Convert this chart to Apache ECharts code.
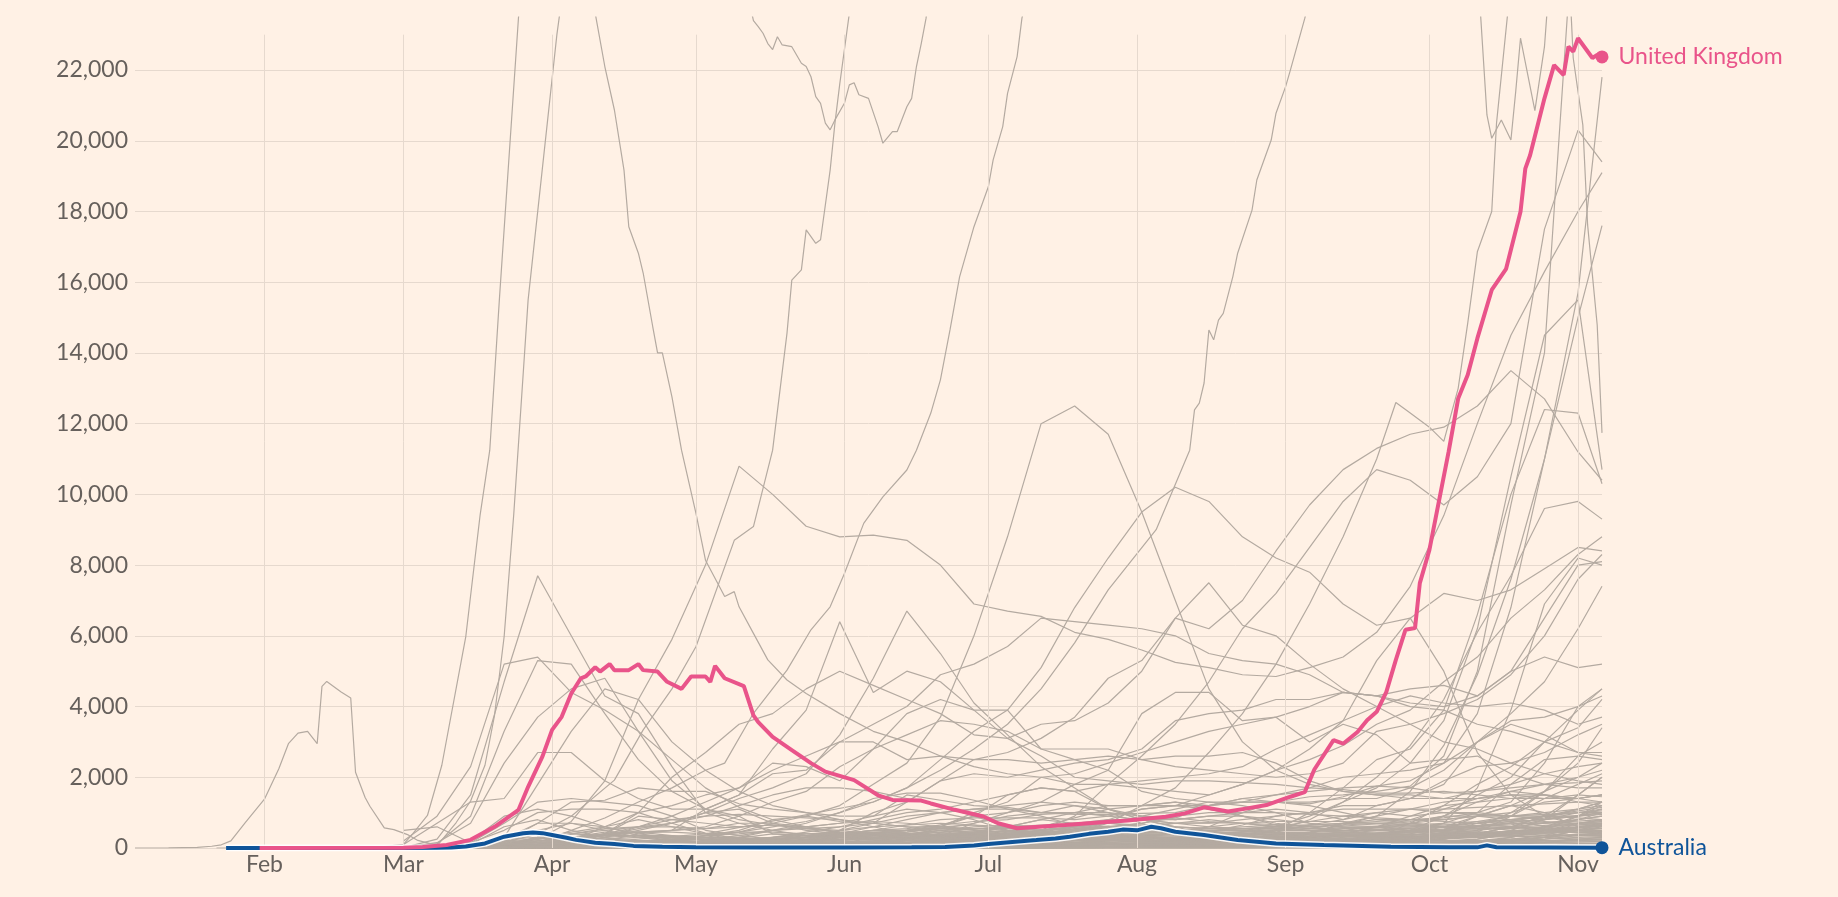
<!DOCTYPE html>
<html>
<head>
<meta charset="utf-8">
<style>
html,body{margin:0;padding:0;background:#fff1e5;}
#c{width:1838px;height:897px;}
</style>
<script src="https://cdn.jsdelivr.net/npm/echarts@6/dist/echarts.min.js"></script>
</head>
<body>
<div id="c"></div>
<script>
// ---------- axis / tick data ----------
const monthNames = ['Jan','Feb','Mar','Apr','May','Jun','Jul','Aug','Sep','Oct','Nov','Dec'];
const monthStarts = ['2020-02-01','2020-03-01','2020-04-01','2020-05-01','2020-06-01','2020-07-01','2020-08-01','2020-09-01','2020-10-01','2020-11-01'];
const yMax = 23500, yGridTop = 23000, yStep = 2000;

// weekly sample dates used by most grey lines
const weeks = ['2020-03-01','2020-03-08','2020-03-15','2020-03-22','2020-03-29',
 '2020-04-05','2020-04-12','2020-04-19','2020-04-26',
 '2020-05-03','2020-05-10','2020-05-17','2020-05-24','2020-05-31',
 '2020-06-07','2020-06-14','2020-06-21','2020-06-28',
 '2020-07-05','2020-07-12','2020-07-19','2020-07-26',
 '2020-08-02','2020-08-09','2020-08-16','2020-08-23','2020-08-30',
 '2020-09-06','2020-09-13','2020-09-20','2020-09-27',
 '2020-10-04','2020-10-11','2020-10-18','2020-10-25',
 '2020-11-01','2020-11-06'];

// ---------- highlighted series ----------
const ukDates = ['2020-01-31','2020-03-01','2020-03-05','2020-03-10','2020-03-15','2020-03-20','2020-03-25','2020-03-27','2020-03-30',
 '2020-04-01','2020-04-03','2020-04-05','2020-04-07','2020-04-08','2020-04-10','2020-04-11','2020-04-13','2020-04-14','2020-04-17','2020-04-19','2020-04-20','2020-04-23','2020-04-25','2020-04-28','2020-04-30',
 '2020-05-03','2020-05-04','2020-05-05','2020-05-07','2020-05-11','2020-05-13','2020-05-14','2020-05-17','2020-05-21','2020-05-25','2020-05-28',
 '2020-06-03','2020-06-08','2020-06-11','2020-06-17','2020-06-19','2020-06-24','2020-06-30',
 '2020-07-03','2020-07-07','2020-07-10','2020-07-17','2020-07-24','2020-07-30',
 '2020-08-07','2020-08-11','2020-08-15','2020-08-20','2020-08-24','2020-08-28',
 '2020-09-02','2020-09-05','2020-09-07','2020-09-11','2020-09-13','2020-09-16','2020-09-18','2020-09-20','2020-09-22','2020-09-24','2020-09-26','2020-09-28','2020-09-29',
 '2020-10-01','2020-10-05','2020-10-07','2020-10-09','2020-10-11','2020-10-14','2020-10-17','2020-10-20','2020-10-21','2020-10-22','2020-10-25','2020-10-27','2020-10-29','2020-10-30','2020-10-31',
 '2020-11-01','2020-11-04','2020-11-05','2020-11-06'];
const ukVals = [0,10,30,85,230,600,1080,1730,2590,
 3340,3710,4370,4800,4850,5110,4990,5200,5030,5030,5200,5030,4990,4700,4500,4850,
 4850,4700,5150,4800,4580,3750,3560,3140,2770,2400,2160,
 1920,1490,1360,1340,1260,1080,890,
 700,560,590,650,720,780,
 885,980,1150,1030,1120,1215,
 1450,1580,2220,3050,2950,3280,3610,3850,4410,5320,6170,6220,7490,
 8430,11200,12710,13380,14410,15780,16380,17990,19210,19590,21200,22140,21860,22660,22520,
 22900,22340,22430,22370];

const ausDates = ['2020-01-24','2020-03-01','2020-03-08','2020-03-11','2020-03-14','2020-03-18','2020-03-22','2020-03-26','2020-03-28','2020-03-30',
 '2020-04-01','2020-04-04','2020-04-06','2020-04-10','2020-04-14','2020-04-18','2020-04-24','2020-05-01','2020-05-15',
 '2020-06-01','2020-06-15','2020-06-22','2020-06-28','2020-07-01','2020-07-06','2020-07-11','2020-07-15','2020-07-18','2020-07-22','2020-07-26','2020-07-29',
 '2020-08-01','2020-08-04','2020-08-06','2020-08-09','2020-08-15','2020-08-22','2020-08-30',
 '2020-09-09','2020-09-23','2020-10-05','2020-10-11','2020-10-13','2020-10-15','2020-11-06'];
const ausVals = [0,2,8,15,40,130,320,415,440,420,
 370,290,230,150,110,60,35,20,15,
 15,20,25,70,110,170,225,270,320,400,460,520,
 500,600,560,460,370,225,130,
 85,35,20,18,75,20,10];

// ---------- grey lines with their own dates ----------
const chinaDates = ['2020-01-05','2020-01-12','2020-01-18','2020-01-21','2020-01-23','2020-01-25','2020-01-28','2020-02-01','2020-02-04','2020-02-06','2020-02-08','2020-02-10','2020-02-12','2020-02-13','2020-02-14','2020-02-17','2020-02-19','2020-02-20','2020-02-22','2020-02-23','2020-02-26','2020-02-28','2020-03-02','2020-03-04','2020-03-07','2020-03-15','2020-04-01','2020-04-15','2020-05-01','2020-06-15','2020-08-01','2020-11-06'];
const chinaVals = [0,5,20,50,90,200,720,1380,2240,2950,3250,3300,2950,4570,4710,4410,4240,2140,1430,1180,570,520,370,215,110,30,50,60,10,20,50,20];

const usDates = ['2020-01-22','2020-03-01','2020-03-08','2020-03-12','2020-03-15','2020-03-18','2020-03-20','2020-03-22','2020-03-24','2020-03-26','2020-03-27','2020-04-02','2020-04-08','2020-04-15','2020-04-22','2020-04-29','2020-05-06','2020-05-12','2020-05-13','2020-05-14','2020-05-15','2020-05-16','2020-05-17','2020-05-18','2020-05-19','2020-05-21','2020-05-23','2020-05-24','2020-05-25','2020-05-26','2020-05-27','2020-05-28','2020-05-29','2020-05-30','2020-06-01','2020-06-02','2020-06-03','2020-06-04','2020-06-06','2020-06-08','2020-06-09','2020-06-11','2020-06-12','2020-06-14','2020-06-15','2020-06-16','2020-06-17','2020-06-18','2020-06-22','2020-07-01','2020-07-20','2020-11-06'];
const usVals = [0,5,60,720,1330,2340,3760,5980,9430,13470,15500,23000,29000,31000,29500,29000,27000,24000,23400,23230,23040,22750,22580,22940,22710,22660,22190,22100,21810,21250,21060,20500,20310,20590,21070,21580,21640,21300,21200,20400,19930,20260,20260,20960,21200,22100,22750,23460,28000,45000,65000,110000];

const bigDates = ['2020-02-23','2020-03-01','2020-03-03','2020-03-06','2020-03-09','2020-03-14','2020-03-17','2020-03-19','2020-03-21','2020-03-25','2020-03-30','2020-04-04','2020-04-10','2020-04-12','2020-04-14','2020-04-16','2020-04-17','2020-04-19','2020-04-20','2020-04-22','2020-04-23','2020-04-24','2020-04-26','2020-04-28','2020-05-01','2020-05-03','2020-05-07','2020-05-09','2020-05-10','2020-05-13','2020-05-16','2020-05-20','2020-05-24','2020-05-31','2020-06-07','2020-06-14','2020-06-21','2020-06-28','2020-07-05','2020-07-12','2020-07-19','2020-07-26','2020-08-02','2020-08-09','2020-08-16','2020-08-23','2020-08-30','2020-09-06','2020-09-13','2020-09-20','2020-09-27','2020-10-04','2020-10-11','2020-10-18','2020-10-25','2020-11-01','2020-11-06'];
const bigVals = [0,100,415,920,2340,5980,9430,11250,15500,23500,32000,34000,23600,22100,20870,19170,17570,16820,16260,14740,14000,14000,12760,11250,9470,8140,7110,7250,6820,6070,5320,4750,4370,3800,3300,3000,2600,2300,2100,2000,2100,2400,2700,3000,3300,3500,3700,4000,4400,4300,4100,4000,4300,5000,6500,8000,8100];

const brazilDates = ['2020-02-26','2020-03-15','2020-03-22','2020-03-29','2020-04-05','2020-04-14','2020-04-20','2020-04-26','2020-05-01','2020-05-09','2020-05-13','2020-05-17','2020-05-20','2020-05-21','2020-05-23','2020-05-24','2020-05-26','2020-05-27','2020-05-29','2020-05-30','2020-05-31','2020-06-02','2020-06-09','2020-07-01','2020-11-06'];
const brazilVals = [0,30,150,400,900,1920,3340,4500,5690,8700,9090,11250,14560,16060,16350,17480,17100,17200,19170,20500,21600,23600,28000,38000,40000];

const indiaDates = ['2020-03-01','2020-03-22','2020-03-29','2020-04-05','2020-04-12','2020-04-19','2020-04-26','2020-05-03','2020-05-07','2020-05-13','2020-05-20','2020-05-25','2020-05-29','2020-06-01','2020-06-05','2020-06-09','2020-06-14','2020-06-16','2020-06-19','2020-06-21','2020-06-23','2020-06-25','2020-06-28','2020-07-01','2020-07-02','2020-07-04','2020-07-05','2020-07-07','2020-07-08','2020-07-15','2020-08-01','2020-11-06'];
const indiaVals = [0,50,150,500,850,1300,1700,2200,2400,3810,5030,6170,6820,7770,9180,9930,10690,11250,12300,13240,14650,16150,17570,18700,19460,20400,21340,22380,23460,28000,50000,50000];

const augDates = ['2020-04-05','2020-05-03','2020-06-07','2020-06-14','2020-06-21','2020-06-28','2020-07-05','2020-07-12','2020-07-19','2020-07-26','2020-08-05','2020-08-12','2020-08-13','2020-08-14','2020-08-15','2020-08-16','2020-08-17','2020-08-18','2020-08-19','2020-08-21','2020-08-22','2020-08-25','2020-08-26','2020-08-29','2020-08-30','2020-09-01','2020-09-02','2020-09-05','2020-09-13','2020-09-27','2020-10-05','2020-10-11','2020-10-13','2020-10-14','2020-10-16','2020-10-18','2020-10-19','2020-10-20','2020-10-23','2020-10-25','2020-10-26','2020-11-01','2020-11-06'];
const augVals = [100,400,1300,1700,2200,2800,3500,4500,5800,7300,9000,11250,12390,12580,13150,14650,14370,14930,15120,16160,16820,18040,18890,20020,20780,21530,22000,23460,28000,30000,27000,25000,20730,20070,20590,20020,21390,22900,20850,22660,24500,30000,33000];

const franceDates = ['2020-03-01','2020-03-08','2020-03-15','2020-03-22','2020-03-29','2020-04-05','2020-04-12','2020-04-19','2020-04-26','2020-05-03','2020-05-10','2020-05-17','2020-05-24','2020-05-31','2020-06-07','2020-06-14','2020-06-21','2020-06-28','2020-07-05','2020-07-12','2020-07-19','2020-07-26','2020-08-02','2020-08-09','2020-08-16','2020-08-23','2020-08-30','2020-09-06','2020-09-13','2020-09-20','2020-09-24','2020-09-27','2020-10-01','2020-10-04','2020-10-07','2020-10-09','2020-10-11','2020-10-14','2020-10-15','2020-10-18','2020-10-22','2020-10-26','2020-10-29','2020-10-31','2020-11-01','2020-11-02','2020-11-03','2020-11-04','2020-11-05','2020-11-06'];
const franceVals = [20,150,700,2400,3700,4500,4800,3300,1900,1100,900,400,350,400,400,350,450,550,550,600,850,1100,1200,1700,2700,3800,5200,6900,8800,11000,12600,12300,11900,11500,13000,14850,16860,18000,20500,24500,32000,36000,28000,22340,21390,20450,17620,16200,14790,11740];

// ---------- grey lines on the weekly dates (Mar | Apr | May | Jun | Jul | Aug | Sep | Oct | Nov) ----------
const italy       = [200,900,2300,5200,5400, 4400,3900,3300,2500, 1700,1150,800,600,420, 300,280,250,200, 190,200,230,260, 300,400,600,1000,1300, 1450,1500,1600,1750, 2600,5000,9700,14000, 28000,32000];
const spain       = [10,250,1500,4700,7700, 6000,4300,3800,2300, 1000,700,500,350,250, 250,300,280,300, 350,500,900,1800, 2600,3500,4700,6200,7200, 8500,9800,10700,10400, 9700,10500,12000,17500, 20300,19400];
const germany     = [20,120,900,3300,5300, 5200,3800,2500,1600, 1100,800,650,550,450, 380,350,560,520, 400,390,450,600, 700,850,1200,1400,1300, 1250,1450,1750,1900, 2400,3800,6800,11000, 15000,17600];
const russia      = [0,2,15,60,250, 750,1900,4200,5900, 8000,10800,10000,9100,8800, 8850,8700,8000,6900, 6700,6550,6100,5900, 5600,5250,5100,4900,4850, 5100,5400,6100,7400, 9400,12000,14500,16300, 18000,19100];
const pakistan    = [0,0,20,100,200, 250,350,550,700, 1000,1400,1700,2100,3200, 4800,6700,5500,4100, 3200,2300,1700,1100, 800,600,550,500,450, 450,550,600,650, 600,620,650,850, 1100,1300];
const chile       = [0,0,20,100,250, 300,400,450,500, 1100,1500,2800,3900,6400, 4400,5000,4700,3900, 3100,2600,2000,1900, 1800,1900,1900,1850,1800, 1700,1650,1550,1550, 1600,1500,1400,1400, 1500,1450];
const mexico      = [0,0,5,30,100, 250,400,600,900, 1300,1700,2200,2600,3000, 3500,4000,4900,5200, 5700,6500,6400,6300, 6200,6000,5500,5300,5200, 4900,4400,4300,4500, 4600,4300,5000,5400, 5100,5200];
const colombia    = [0,0,5,30,60, 100,150,200,250, 250,350,500,700,1000, 1300,1700,2500,3300, 3900,5100,6800,8200, 9500,10200,9800,8800,8200, 7800,6900,6300,6500, 7200,7000,7300,7900, 8500,8400];
const argentina   = [0,0,5,40,80, 100,100,100,100, 150,200,300,450,600, 700,1300,1900,2500, 2700,3100,3700,4800, 5300,6500,6200,7000,8400, 9700,10700,11300,11700, 11900,12500,13500,12700, 11200,10400];
const southAfrica = [0,0,10,60,100, 80,100,150,200, 300,450,700,900,1200, 1800,2400,3700,6000, 8800,12000,12500,11700, 9500,7000,4500,3000,2200, 1800,1600,1500,1400, 1400,1600,1700,1800, 1850,1900];
const iran        = [100,700,1300,1400,2700, 2700,1900,1400,1100, 1100,1500,2100,2200,3000, 3000,2500,2600,2500, 2500,2400,2500,2600, 2500,2300,2200,2100,2000, 2100,2400,3300,3500, 3800,4200,4900,6000, 7600,8300];
const turkey      = [0,0,10,300,1800, 3300,4500,4200,3000, 2200,1600,1200,1000,900, 900,1500,1350,1200, 1150,1000,950,950, 980,1000,1200,1400,1500, 1600,1700,1750,1700, 1550,1600,1800,2100, 2300,2400];
const peru        = [0,0,5,40,100, 200,600,1000,2000, 2700,3500,3800,4500,5000, 4600,4200,3800,3200, 3100,3500,3600,4100, 5000,6500,7500,6300,6000, 5200,4500,4000,3500, 3000,2800,2400,2100, 1900,1800];
const canada      = [0,5,40,180,700, 1300,1350,1700,1600, 1600,1250,1100,1000,800, 600,400,320,290, 280,330,380,430, 400,360,340,390,450, 650,800,1200,1400, 1900,2300,2400,2700, 3200,3500];
const belgium     = [0,20,150,700,1300, 1400,1300,1200,900, 500,350,250,200,150, 100,90,100,130, 180,400,550,620, 550,420,330,340,500, 800,1300,1700,2400, 3600,6200,10500,14500, 15500,10700];
const netherlands = [0,20,150,500,1000, 1100,1100,1000,700, 420,250,200,170,150, 130,120,90,70, 80,150,200,340, 500,580,550,540,620, 900,1300,2000,2900, 4200,6100,7700,9600, 9800,9300];
const czechia     = [0,5,40,140,270, 300,200,120,80, 60,50,60,60,100, 80,90,120,140, 170,150,150,200, 270,240,230,280,500, 1000,1700,2500,2800, 3900,6600,10000,12400, 12300,10300];
const poland      = [0,0,20,100,300, 400,350,350,350, 300,280,400,350,350, 450,400,350,300, 280,300,320,400, 550,700,800,700,600, 550,700,900,1600, 2900,4900,7600,11000, 15700,21800];
const switzerland = [0,10,200,900,1100, 900,600,350,200, 100,50,40,30,25, 30,40,80,100, 110,140,130,160, 200,240,280,300,300, 400,450,400,450, 700,1700,3900,6900, 8200,8000];
const romania     = [0,0,10,40,200, 300,350,350,250, 300,300,200,150,170, 250,300,350,450, 600,800,1000,1200, 1200,1200,1200,1300,1300, 1300,1400,1400,1700, 2200,3000,3800,4700, 6200,7400];
const ukraine     = [0,0,0,5,60, 180,350,450,450, 400,450,450,400,400, 500,650,800,850, 850,850,800,900, 1100,1200,1500,1800,2200, 2500,2900,3500,3900, 4700,5400,6500,7300, 8300,8800];
const morocco     = [0,0,5,15,50, 130,150,170,150, 150,80,100,100,40, 50,250,300,400, 400,600,450,700, 1200,1300,1200,1300,1500, 1700,2000,2100,2200, 2400,3000,3600,3700, 4000,4300];
const iraq        = [0,5,15,15,20, 20,20,20,30, 50,80,150,200,500, 1000,1300,1900,2100, 2000,2200,2400,2500, 2800,3600,3800,3900,4200, 4200,4400,4300,4000, 3900,3500,3300,3000, 2700,2700];
const indonesia   = [0,0,10,80,120, 200,300,350,300, 350,400,500,550,600, 800,1000,1100,1300, 1500,1700,1600,1800, 1900,2000,2100,2300,2800, 3200,3600,4000,4300, 4100,4000,4100,3900, 3500,3700];
const philippines = [0,0,10,50,300, 250,250,200,200, 250,200,200,200,400, 500,500,600,1000, 1300,2000,1800,2200, 3800,4400,4400,3600,3700, 3000,3500,3200,2400, 2500,2600,2100,1800, 1700,1700];
const bangladesh  = [0,0,0,5,10, 30,200,400,500, 600,900,1300,1600,2300, 2800,3200,3600,3500, 3300,2800,2800,2800, 2500,2600,2600,2700,2400, 1900,1600,1500,1500, 1400,1400,1500,1500, 1400,1500];
const saudi       = [0,0,10,50,100, 150,400,1000,1200, 1500,1700,2400,2300,1900, 2800,3800,4200,3900, 3900,2800,2500,2200, 1600,1400,1300,1200,1000, 700,600,500,480, 400,400,400,350, 350,350];
const israel      = [0,5,40,150,500, 700,500,300,200, 100,40,20,20,60, 150,220,340,700, 1000,1300,1800,1800, 1700,1600,1500,1800,2200, 2800,3600,5300,6500, 5000,2700,1500,900, 650,650];
const egypt       = [0,0,10,30,60, 120,150,180,250, 350,450,600,750,1000, 1400,1550,1550,1350, 1100,900,650,400, 200,150,130,140,150, 150,140,130,120, 110,120,140,170, 210,250];
const portugal    = [0,0,30,250,700, 700,600,400,300, 300,250,200,230,300, 300,300,350,350, 350,330,300,220, 200,200,250,250,300, 450,650,700,750, 900,1500,2000,3000, 3900,4500];
const sweden      = [0,10,100,100,250, 400,550,600,600, 550,600,650,600,700, 900,1100,1000,800, 500,300,250,300, 300,280,250,200,200, 200,250,300,500, 600,700,900,1600, 2600,3000];
const austria     = [0,5,100,600,800, 500,300,100,50, 50,40,40,30,30, 40,50,50,80, 80,100,100,120, 100,150,200,250,300, 400,700,750,800, 850,1000,1300,2400, 4000,4500];
const hungary     = [0,0,5,20,40, 60,70,80,80, 60,50,30,20,15, 10,10,5,5, 10,15,20,30, 20,30,40,60,150, 400,700,800,800, 800,900,1000,1600, 2400,3400];
const jordan      = [0,0,0,5,20, 30,10,10,5, 5,5,10,10,10, 10,10,10,10, 10,10,10,10, 10,10,20,30,60, 80,150,300,700, 1200,1800,2300,3000, 3400,4200];
const nepal       = [0,0,0,0,0, 1,2,3,5, 10,30,50,100,200, 300,400,500,400, 200,150,100,100, 150,250,450,650,900, 1000,1200,1200,1400, 1800,3000,3500,3200, 2700,2600];
const japan       = [0,5,20,40,100, 300,450,450,350, 200,100,50,30,40, 45,50,80,100, 150,300,600,800, 1100,1200,1100,900,650, 550,500,500,550, 500,550,600,700, 800,900];
const greece      = [0,2,30,60,70, 60,50,30,15, 10,10,10,10,5, 5,10,15,20, 20,25,30,40, 70,150,200,220,200, 200,250,300,330, 300,350,500,800, 1500,2000];
const croatia     = [0,2,10,40,80, 70,50,30,15, 10,5,3,2,1, 2,5,30,60, 70,80,60,50, 40,90,150,220,250, 250,220,200,200, 250,450,900,1400, 1800,2100];
const bulgaria    = [0,0,5,15,30, 30,30,30,40, 40,40,60,50,60, 70,80,120,150, 180,200,220,200, 180,150,130,120,110, 120,130,150,170, 250,400,600,900, 1500,2000];
const serbia      = [0,0,10,40,150, 250,380,350,250, 150,100,90,80,70, 60,50,90,200, 320,350,380,350, 250,150,100,80,70, 60,70,90,100, 120,200,300,500, 900,1300];
const slovakia    = [0,0,5,20,40, 50,40,20,10, 5,3,3,2,2, 3,5,10,15, 20,15,15,20, 40,60,80,90,100, 150,250,350,500, 700,1000,1800,2500, 2600,2500];
const slovenia    = [0,1,20,50,60, 50,40,20,10, 5,2,1,1,1, 2,5,10,15, 15,20,20,20, 20,20,30,30,30, 40,50,100,150, 350,600,1000,1300, 1400,1500];
const denmark     = [0,2,30,80,200, 250,250,200,150, 120,80,60,50,40, 40,40,40,40, 30,40,60,80, 110,110,100,90,120, 200,300,400,500, 450,400,400,500, 700,800];
const norway      = [0,10,100,250,300, 200,100,80,60, 30,20,15,10,10, 10,10,10,10, 10,10,15,30, 50,60,80,70,50, 60,80,100,110, 120,130,180,250, 350,450];
const finland     = [0,1,20,50,80, 100,100,120,130, 100,80,60,40,30, 20,10,10,5, 5,5,10,15, 20,20,20,20,30, 50,70,90,110, 150,200,200,200, 220,250];
const ireland     = [0,2,10,100,300, 450,600,800,600, 400,200,100,70,50, 30,20,20,15, 15,20,30,30, 50,80,90,120,130, 130,200,250,350, 500,900,1200,1000, 600,450];
const georgia     = [0,0,0,1,5, 10,20,20,15, 10,10,5,5,5, 10,10,5,5, 5,5,5,10, 15,20,30,30,30, 40,80,200,400, 600,900,1200,1600, 2000,2400];
const armenia     = [0,0,5,20,30, 40,50,50,80, 100,150,250,350,500, 600,650,700,650, 500,400,300,250, 200,180,200,220,250, 300,350,400,500, 900,1300,1600,1800, 2000,2200];
const azerbaijan  = [0,0,2,10,30, 50,40,40,40, 60,80,100,200,300, 400,500,550,550, 500,450,400,350, 250,150,100,80,80, 100,130,150,180, 200,250,400,600, 900,1200];
const kenya       = [0,0,0,5,10, 15,15,20,20, 30,40,50,60,100, 120,150,200,250, 300,400,500,600, 600,500,300,200,150, 120,100,100,150, 250,400,600,800, 1000,1000];
const ethiopia    = [0,0,0,2,5, 5,5,5,5, 10,20,30,50,80, 150,200,250,300, 400,500,600,700, 900,1100,1300,1300,1300, 1200,1000,800,700, 600,600,600,550, 500,500];
const nigeria     = [0,0,1,10,20, 30,40,60,100, 200,250,250,300,300, 350,450,600,650, 600,600,600,550, 450,400,350,250,200, 180,180,150,130, 150,160,150,150, 170,180];
const ghana       = [0,0,2,15,20, 30,50,100,120, 150,200,300,400,450, 350,400,500,450, 400,400,350,300, 200,150,100,80,70, 50,50,40,40, 50,50,60,70, 80,90];
const algeria     = [0,0,5,30,60, 90,100,100,120, 130,140,180,180,160, 130,120,150,250, 400,500,600,600, 550,450,400,350,300, 250,200,170,150, 160,200,250,350, 600,700];
const cuba        = [0,0,2,5,10, 30,50,40,30, 20,15,10,5,5, 5,5,5,5, 5,5,10,20, 40,50,60,50,50, 40,40,30,30, 30,20,20,30, 40,40];
const honduras    = [0,0,1,5,10, 20,30,40,50, 60,80,100,150,250, 300,350,500,600, 650,600,500,500, 550,500,450,400,380, 400,400,400,400, 350,300,350,400, 350,350];
const panama      = [0,0,5,30,100, 150,150,100,80, 100,100,150,200,300, 400,500,650,750, 800,950,1000,1000, 900,850,750,700,600, 500,450,450,450, 500,600,700,700, 700,750];
const dominican   = [0,0,5,20,100, 200,250,300,300, 250,250,250,300,350, 400,450,550,700, 900,1000,1000,900, 800,700,600,550,450, 400,350,330,300, 400,450,450,450, 500,550];
const venezuela   = [0,0,1,5,10, 10,10,10,10, 10,15,40,60,80, 100,150,200,300, 350,450,600,700, 800,800,900,1000,1000, 950,900,850,800, 750,700,600,500, 450,400];
const costaRica   = [0,0,2,10,20, 20,15,10,5, 5,5,10,20,40, 60,100,200,300, 450,600,700,800, 800,700,700,800,900, 1000,1100,1100,1100, 1000,950,900,900, 850,800];
const paraguay    = [0,0,0,2,5, 5,5,5,5, 10,20,20,30,30, 30,30,30,40, 60,100,150,200, 300,450,600,700,750, 750,750,700,650, 600,550,550,600, 650,700];
const lebanon     = [0,0,5,10,20, 20,10,5,5, 5,10,10,10,10, 10,15,20,40, 60,100,150,200, 300,450,550,550,550, 600,650,900,1100, 1300,1400,1500,1400, 1400,1500];
const libya       = [0,0,0,0,0, 1,1,1,1, 1,2,5,10,15, 20,30,50,100, 150,200,250,300, 350,400,450,550,600, 650,700,700,700, 650,700,750,800, 900,1000];
const myanmar     = [0,0,0,0,1, 2,2,2,2, 2,1,1,1,1, 1,1,1,1, 1,1,1,1, 1,1,5,15,50, 200,400,600,800, 1100,1400,1600,1500, 1300,1200];
const malaysia    = [0,0,100,200,150, 150,100,60,40, 20,30,30,20,10, 10,5,5,5, 5,5,5,10, 10,10,10,15,20, 60,150,200,250, 450,700,800,900, 900,950];
const uae         = [0,1,5,20,80, 250,400,450,500, 550,700,700,600,450, 400,400,380,380, 350,300,280,250, 250,300,350,450,600, 750,900,1000,1100, 1100,1150,1200,1250, 1300,1300];
const qatar       = [0,2,40,50,50, 150,300,500,700, 900,1200,1500,1700,1700, 1600,1400,1200,900, 600,500,400,300, 280,270,250,230,220, 220,230,220,210, 200,200,200,210, 220,230];
const kuwait      = [0,5,10,15,20, 40,70,100,200, 350,500,800,900,750, 700,600,600,550, 600,650,700,700, 650,600,550,600,650, 650,700,650,650, 700,750,800,750, 700,700];
const oman        = [0,1,5,5,10, 20,30,60,100, 120,150,200,300,500, 700,900,1000,1100, 1200,1300,1200,1000, 700,400,300,200,250, 300,400,500,700, 900,900,800,600, 500,400];
const belarus     = [0,0,2,10,30, 100,300,600,800, 900,950,900,850,800, 700,600,400,300, 200,150,120,120, 140,130,140,170,200, 260,330,420,500, 600,750,900,1000, 1100,1200];
const moldova     = [0,0,2,10,40, 100,130,150,150, 180,150,120,120,150, 200,300,350,350, 300,250,280,300, 350,400,400,450,500, 500,500,600,700, 800,900,900,950, 1000,1050];
const uzbekistan  = [0,0,1,5,10, 20,40,50,50, 40,40,30,40,60, 80,100,200,300, 400,500,600,700, 600,500,400,300,300, 300,250,250,200, 200,200,200,200, 200,200];
const afghanistan = [0,0,1,5,10, 20,40,60,100, 200,300,500,600,700, 750,700,600,400, 300,200,150,100, 60,40,30,20,20, 30,30,40,60, 80,100,150,200, 250,300];
const southKorea  = [500,600,150,100,90, 70,40,20,10, 10,15,20,25,30, 40,45,45,45, 50,50,35,40, 40,200,300,300,250, 150,120,80,70, 60,70,80,90, 100,110];
const thailand    = [0,0,10,120,150, 100,50,20,10, 5,2,2,2,2, 2,2,2,2, 2,2,2,2, 2,2,2,2,2, 2,2,2,2, 2,2,2,2, 2,2];
const senegal     = [0,0,2,5,10, 10,10,10,20, 60,80,90,90,100, 100,100,120,130, 130,130,120,110, 100,80,60,40,30, 20,15,15,15, 15,15,15,15, 15,15];
const cameroon    = [0,0,1,10,30, 70,100,150,150, 150,200,150,200,300, 350,300,200,150, 100,80,100,100, 100,60,40,30,30, 30,30,30,30, 30,30,30,30, 30,40];
const madagascar  = [0,0,0,2,5, 10,10,5,5, 5,5,10,20,30, 50,60,80,150, 200,300,350,400, 300,250,150,100,60, 40,30,20,15, 15,15,15,15, 15,15];
const zambia      = [0,0,0,1,2, 3,3,3,5, 10,20,30,40,50, 40,30,30,100, 200,300,300,400, 300,200,150,100,80, 70,60,50,40, 40,40,40,40, 40,40];
const elSalvador  = [0,0,0,1,3, 8,12,18,25, 30,40,60,80,100, 150,200,250,300, 350,400,400,350, 300,250,200,150,130, 130,130,140,150, 150,150,150,140, 130,130];
const uruguay     = [0,0,10,30,20, 10,10,10,5, 5,5,5,5,5, 5,5,5,5, 5,10,10,10, 10,10,10,10,10, 10,10,15,20, 30,40,50,60, 70,80];
const sriLanka    = [0,0,2,10,10, 10,10,10,20, 30,40,30,30,20, 15,10,10,10, 20,50,20,10, 10,10,5,5,5, 5,5,5,5, 100,200,200,300, 400,400];
const singapore   = [5,10,15,40,60, 100,400,900,800, 700,600,650,550,500, 400,300,250,200, 250,200,300,350, 250,150,100,80,60, 50,20,20,15, 10,10,5,5, 5,5];
const tunisia     = [0,0,5,10,30, 40,30,20,10, 5,3,1,1,1, 1,1,2,5, 10,10,10,15, 20,40,80,150,200, 300,400,600,900, 1200,1300,1400,1500, 1400,1300];
const kyrgyzstan  = [0,0,0,5,10, 20,20,20,20, 20,20,20,20,30, 50,150,250,400, 600,800,700,500, 200,100,80,60,50, 50,60,70,100, 150,250,400,600, 700,700];
const guatemala   = [0,0,0,0,5, 10,15,30,50, 80,100,150,250,400, 600,800,1000,1100, 1100,1000,1200,1100, 900,800,900,900,800, 700,600,600,600, 600,600,500,500, 500,500];
const ecuador     = [0,0,20,200,250, 400,500,600,700, 1000,1100,700,500,400, 300,300,400,400, 500,600,700,600, 700,900,1000,1000,1100, 1000,800,1000,900, 1000,1000,900,800, 900,1100];
const bolivia     = [0,0,0,10,20, 30,40,60,80, 100,150,200,300,400, 500,550,650,900, 1000,1200,1300,1200, 1200,1300,1100,900,700, 600,500,400,300, 200,180,150,150, 170,180];
const kazakhstan  = [0,0,5,10,30, 50,80,120,180, 200,200,250,300,350, 400,500,600,900, 1500,1700,1600,1100, 800,600,350,200,150, 100,90,100,100, 120,150,200,300, 500,700];
const haiti       = [0,0,0,0,1, 2,3,5,8, 10,20,30,50,80, 100,150,200,150, 100,80,60,40, 30,20,15,10,10, 10,10,10,10, 10,10,10,10, 10,15];
const bahrain     = [0,5,15,20,20, 30,50,100,150, 200,250,300,350,400, 450,500,550,500, 450,400,350,400, 400,380,380,400,500, 650,650,600,500, 450,400,350,300, 250,250];
const macedonia   = [0,0,2,10,20, 30,40,40,30, 20,20,15,30,40, 80,120,140,150, 130,120,130,130, 100,90,100,120,130, 150,150,170,200, 250,300,400,600, 800,1000];
const bosnia      = [0,0,2,10,30, 40,40,30,30, 20,15,10,10,10, 10,20,40,80, 120,150,200,250, 200,230,250,200,150, 120,150,200,250, 300,400,600,900, 1100,1300];
const lithuania   = [0,0,2,10,30, 40,40,30,20, 15,10,10,10,5, 5,5,5,5, 5,5,10,15, 20,30,30,30,30, 40,60,80,100, 100,120,200,300, 500,600];
const albania     = [0,0,5,10,20, 20,15,10,10, 5,5,5,5,5, 10,20,40,70, 80,80,90,100, 110,120,130,140,120, 110,120,140,150, 150,200,250,300, 380,400];
const montenegro  = [0,0,0,5,10, 10,5,2,1, 0,0,0,0,0, 0,2,10,30, 40,60,50,50, 50,60,70,80,100, 130,150,180,200, 200,200,230,250, 300,320];
const latvia      = [0,0,2,10,20, 20,20,15,10, 10,10,5,5,5, 5,5,5,5, 5,5,5,5, 5,5,5,5,10, 20,20,20,30, 40,80,100,150, 250,300];
const luxembourg  = [0,1,20,100,200, 150,80,50,20, 10,10,10,10,10, 10,10,20,40, 80,120,100,80, 60,50,40,40,30, 50,70,60,70, 80,150,300,500, 650,700];
const ivoryCoast  = [0,0,1,10,20, 30,40,50,50, 60,80,100,120,150, 200,300,350,350, 300,250,200,150, 100,80,60,50,40, 30,30,30,30, 20,20,20,20, 20,20];
const sudan       = [0,0,0,1,2, 5,10,20,40, 60,100,150,250,200, 150,200,250,150, 100,80,50,40, 30,20,20,20,20, 20,15,10,10, 10,10,10,10, 15,20];
const kosovo      = [0,0,5,20,60, 100,150,200,220, 250,260,280,300,320, 340,360,380,400, 420,430,450,460, 470,480,490,500,520, 540,560,580,600, 650,700,800,900, 1000,1100];
const gabon       = [0,0,2,10,40, 80,120,140,150, 140,130,120,110,100, 100,110,120,150, 180,200,230,250, 260,270,280,290,300, 320,330,350,380, 420,500,600,700, 800,900];
const guinea      = [0,0,0,5,20, 50,80,100,130, 160,200,240,280,320, 360,400,440,460, 480,460,440,420, 400,380,360,340,330, 320,320,330,340, 360,380,400,420, 450,480];
const congo       = [0,0,1,5,15, 30,60,90,120, 150,180,210,230,250, 270,300,330,360, 380,400,420,430, 440,430,420,400,380, 370,360,370,380, 400,430,470,520, 580,620];
const namibia     = [0,0,3,15,50, 90,110,100,90, 80,70,70,80,90, 110,140,180,220, 260,300,320,340, 350,340,320,300,280, 270,260,280,300, 340,400,480,580, 700,780];
const zimbabwe    = [0,0,1,3,8, 15,25,40,60, 90,120,160,200,240, 290,340,390,440, 480,520,540,550, 540,520,500,470,440, 420,400,390,380, 380,390,400,420, 450,470];
const malawi      = [0,0,5,30,80, 130,160,170,160, 140,120,100,90,80, 70,70,80,90, 100,120,140,160, 180,200,230,260,290, 320,360,400,450, 520,620,760,900, 1050,1150];
const mozambique  = [0,0,0,2,6, 10,15,20,30, 40,60,90,120,160, 200,250,300,350, 400,450,520,600, 650,700,720,700,660, 620,580,540,500, 480,460,450,440, 440,450];
const angola      = [0,0,1,10,30, 60,90,110,120, 120,110,100,100,110, 120,140,160,190, 220,250,270,280, 290,300,310,320,330, 350,380,420,470, 540,620,720,820, 920,1000];
const tajikistan  = [0,0,0,1,3, 5,10,20,35, 55,80,110,140,170, 200,220,240,250, 260,270,280,290, 300,310,330,360,400, 440,480,520,560, 600,640,680,720, 760,800];
const mongolia    = [0,1,10,40,90, 150,190,210,200, 180,160,140,130,120, 120,130,150,180, 210,240,260,270, 270,260,250,240,230, 230,240,260,290, 330,380,440,520, 600,660];
const syria       = [0,0,0,0,2, 5,10,15,20, 30,45,60,80,100, 130,160,200,240, 280,320,350,370, 380,390,380,370,350, 330,310,300,290, 290,300,320,340, 370,390];
const yemen       = [0,0,2,8,25, 50,70,80,85, 85,80,80,85,95, 110,130,150,170, 190,200,210,210, 200,190,180,175,170, 170,180,200,230, 270,330,400,480, 560,620];
const palestine   = [0,0,1,6,20, 40,60,80,100, 120,150,180,210,240, 260,270,270,260, 250,240,230,220, 220,230,250,280,310, 340,370,400,430, 470,520,580,640, 700,740];
const cyprus      = [0,0,0,3,10, 20,30,45,60, 80,100,120,140,160, 180,210,240,280, 320,360,400,430, 450,460,450,430,410, 390,370,360,360, 370,400,450,520, 600,650];
const estonia     = [0,0,2,10,25, 45,60,70,75, 70,65,60,60,65, 70,80,90,100, 110,120,130,140, 150,160,170,180,190, 200,210,230,260, 300,350,420,500, 580,640];
const iceland     = [0,0,1,4,12, 25,40,60,80, 100,130,160,190,220, 250,280,310,330, 350,360,360,350, 330,310,290,270,260, 250,250,260,280, 310,350,400,460, 520,560];
const mauritania  = [0,0,5,20,40, 60,70,70,60, 50,45,40,40,45, 50,60,80,110, 150,190,230,260, 280,290,290,280,270, 260,260,270,290, 320,360,420,490, 560,610];

const weeklyLines = [italy, spain, germany, russia, pakistan, chile, mexico, colombia, argentina, southAfrica, iran, turkey, peru,
 canada, belgium, netherlands, czechia, poland, switzerland, romania, ukraine, morocco, iraq, indonesia, philippines, bangladesh,
 saudi, israel, egypt, portugal, sweden, austria, hungary, jordan, nepal, japan, greece, croatia, bulgaria, serbia, slovakia,
 slovenia, denmark, norway, finland, ireland, georgia, armenia, azerbaijan, kenya, ethiopia, nigeria, ghana, algeria, cuba,
 honduras, panama, dominican, venezuela, costaRica, paraguay, lebanon, libya, myanmar, malaysia, uae, qatar, kuwait, oman,
 belarus, moldova, uzbekistan, afghanistan, southKorea, thailand, senegal, cameroon, madagascar, zambia, elSalvador, uruguay,
 sriLanka, singapore, tunisia, kyrgyzstan, guatemala, ecuador, bolivia, kazakhstan, haiti, bahrain, macedonia, bosnia,
 lithuania, albania, montenegro, latvia, luxembourg, ivoryCoast, sudan, kosovo, gabon, guinea, congo, namibia, zimbabwe,
 malawi, mozambique, angola, tajikistan, mongolia, syria, yemen, palestine, cyprus, estonia, iceland, mauritania];

// ---------- build ----------
const days = [];
for (let t = Date.UTC(2020, 0, 5); t <= Date.UTC(2020, 10, 6); t += 86400000) {
  days.push(new Date(t).toISOString().slice(0, 10));
}
const pair = (d, v) => d.map((x, i) => [x, v[i]]);
const isMonthStart = (i, v) => v.slice(8) === '01';

const GREY = '#b4aaa1', GRID = '#e6d9ce', TEXT = '#66605c';
const PINK = '#e9548a', BLUE = '#0f5499';
const FONT = 'Lato, "Open Sans", sans-serif';

const greyPairs = [
  [chinaDates, chinaVals], [usDates, usVals], [bigDates, bigVals], [brazilDates, brazilVals],
  [indiaDates, indiaVals], [augDates, augVals], [franceDates, franceVals]
].concat(weeklyLines.map(v => [weeks, v]));

const series = [];
series.push({
  type: 'line', data: [], z: 1, silent: true,
  markLine: {
    silent: true, symbol: ['none', 'none'], animation: false,
    label: { show: false },
    lineStyle: { color: GRID, width: 1, type: 'solid' },
    emphasis: { disabled: true },
    data: monthStarts.map(d => [{ coord: [days.indexOf(d), 0] }, { coord: [days.indexOf(d), yGridTop] }])
  }
});
greyPairs.forEach(([d, v]) => series.push({
  type: 'line', data: pair(d, v), symbol: 'none', silent: true, z: 2,
  lineStyle: { color: GREY, width: 1.2 }, emphasis: { disabled: true }
}));
series.push({
  type: 'line', data: pair(ausDates, ausVals), symbol: 'none', silent: true, z: 8,
  lineStyle: { color: 'rgba(255,255,255,0.9)', width: 7 }
});
series.push({
  type: 'line', data: pair(ausDates, ausVals), symbol: 'none', silent: true, z: 9,
  lineStyle: { color: BLUE, width: 4 }
});
series.push({
  type: 'line', data: pair(ukDates, ukVals), symbol: 'none', silent: true, z: 10,
  lineStyle: { color: PINK, width: 4 }
});
function endPoint(dates, vals, name, color) {
  return {
    type: 'scatter', z: 20, silent: true, clip: false,
    data: [[dates[dates.length - 1], vals[vals.length - 1]]],
    symbol: 'circle', symbolSize: 13, itemStyle: { color: color, opacity: 1 },
    label: { show: true, position: 'right', distance: 10, formatter: name, opacity: 1,
             color: color, fontSize: 23, fontFamily: FONT }
  };
}
series.push(endPoint(ukDates, ukVals, 'United Kingdom', PINK));
series.push(endPoint(ausDates, ausVals, 'Australia', BLUE));

const chart = echarts.init(document.getElementById('c'), null, { renderer: 'canvas' });
chart.setOption({
  backgroundColor: '#fff1e5',
  animation: false,
  textStyle: { fontFamily: FONT },
  grid: { left: 135, right: 236, top: 17, bottom: 49, containLabel: false, outerBoundsMode: 'none' },
  xAxis: {
    type: 'category', data: days, boundaryGap: false,
    axisLine: { show: false }, axisTick: { show: false },
    axisLabel: {
      interval: isMonthStart,
      formatter: v => monthNames[+v.slice(5, 7) - 1],
      color: TEXT, fontSize: 23, fontFamily: FONT, margin: 5
    },
    splitLine: { show: false }
  },
  yAxis: {
    type: 'value', min: 0, max: yMax, interval: yStep,
    axisLine: { show: false }, axisTick: { show: false },
    axisLabel: {
      showMaxLabel: false,
      formatter: v => v.toLocaleString('en-US'),
      color: TEXT, fontSize: 23, fontFamily: FONT, margin: 7
    },
    splitLine: { show: true, showMaxLine: false, lineStyle: { color: GRID, width: 1 } }
  },
  series: series
});
</script>
</body>
</html>
